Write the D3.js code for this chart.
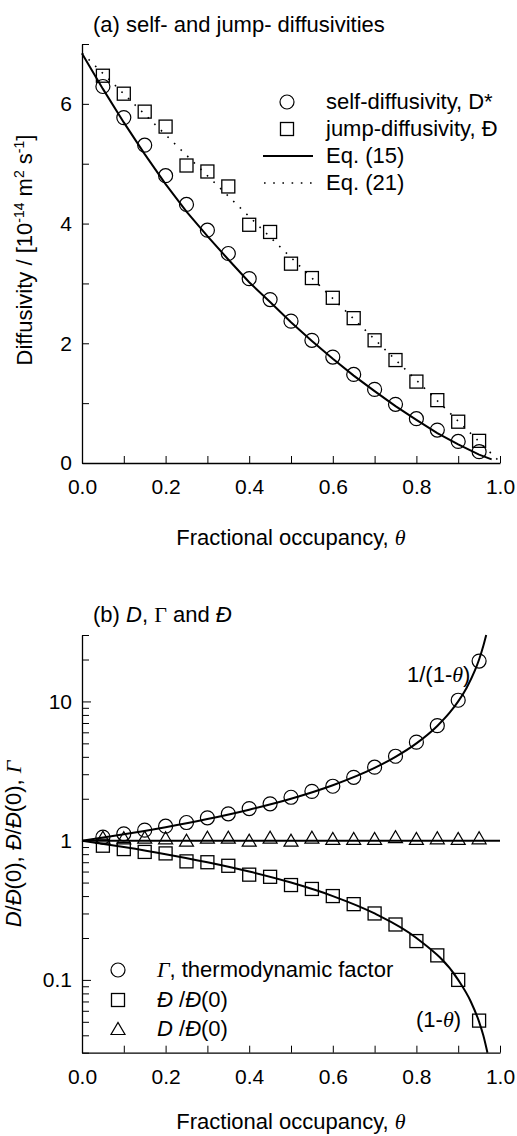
<!DOCTYPE html>
<html><head><meta charset="utf-8">
<script src="https://cdn.jsdelivr.net/npm/d3@7"></script>
<style>
html,body{margin:0;padding:0;background:#fff;overflow:hidden;}
svg{display:block;}
text{font-family:"Liberation Sans",Arial,sans-serif;fill:#000;white-space:pre;}
</style></head><body>
<svg id="chart" width="517" height="1136"></svg>
<script>
// ---------- data ----------
const theta = [0.05,0.10,0.15,0.20,0.25,0.30,0.35,0.40,0.45,0.50,0.55,0.60,0.65,0.70,0.75,0.80,0.85,0.90,0.95];
// panel (a)
const selfDiff = [6.29,5.77,5.31,4.80,4.32,3.89,3.50,3.08,2.73,2.37,2.05,1.77,1.48,1.23,0.98,0.74,0.55,0.36,0.19];
const jumpDiff = [6.47,6.17,5.87,5.62,4.97,4.87,4.62,3.98,3.86,3.33,3.09,2.76,2.42,2.05,1.72,1.36,1.05,0.69,0.37];
const eq15Theta = [0,0.05,0.10,0.15,0.20,0.25,0.30,0.35,0.40,0.45,0.50,0.55,0.60,0.65,0.70,0.75,0.80,0.85,0.90,0.95,0.98];
const eq15Vals  = [6.84,6.25,5.69,5.16,4.66,4.20,3.79,3.40,3.02,2.69,2.35,2.04,1.74,1.46,1.20,0.95,0.72,0.50,0.31,0.14,0.06];
const eq21Theta = [0,0.995];
const eq21Vals  = [6.85,0.05];
const yTicksA = [0,1,2,3,4,5,6,7];
const xTicks = [0,0.1,0.2,0.3,0.4,0.5,0.6,0.7,0.8,0.9,1.0];
// panel (b)
const gammaPts = [1.06,1.12,1.19,1.27,1.35,1.46,1.56,1.70,1.84,2.05,2.26,2.46,2.85,3.37,4.04,5.10,6.70,10.2,19.5];
const jumpRatio = [0.92,0.87,0.83,0.81,0.71,0.70,0.66,0.57,0.55,0.48,0.45,0.40,0.35,0.30,0.25,0.19,0.15,0.10,0.051];
const diffRatio = [1.05,1.04,1.05,1.04,1.00,1.05,1.05,1.00,1.05,1.00,1.05,1.03,1.03,1.03,1.06,1.03,1.04,1.03,1.04];
const gammaCurveTheta = [0,0.1,0.2,0.3,0.4,0.5,0.6,0.7,0.75,0.8,0.85,0.88,0.9,0.92,0.94,0.95,0.96,0.967];
const gammaCurveVals  = [1,1.11,1.25,1.43,1.67,2.0,2.5,3.33,4.0,5.0,6.67,8.33,10,12.5,16.7,20,25,30];
const linCurveTheta = [0,0.1,0.2,0.3,0.4,0.5,0.6,0.7,0.8,0.9,0.93,0.95,0.96,0.97];
const linCurveVals  = [1,0.9,0.8,0.7,0.6,0.5,0.4,0.3,0.2,0.1,0.07,0.05,0.04,0.03];
const unityTheta = [0,1];
const unityVals = [1,1];
const yTicksB = [0.03,0.04,0.05,0.06,0.07,0.08,0.09,0.1,0.2,0.3,0.4,0.5,0.6,0.7,0.8,0.9,1,2,3,4,5,6,7,8,9,10,20,30];
const yLabelsB = [0.1,1,10];

// ---------- setup ----------
const svg = d3.select("#chart");
const x = d3.scaleLinear().domain([0,1]).range([82,500]);
const yA = d3.scaleLinear().domain([0,7]).range([463,44]);
const yB = d3.scaleLog().domain([0.03,30]).range([1052.7,635]);
const FS = 22, TFS = 21;

function zip(a,b){return a.map((v,i)=>[v,b[i]]);}

function styleAxis(g){
  g.attr("font-family",null).attr("font-size",null);
  g.select(".domain").attr("stroke","#000").attr("stroke-width",1.3);
  g.selectAll(".tick line").attr("stroke","#000").attr("stroke-width",1);
  g.selectAll(".tick text").style("font-size",TFS+"px").attr("fill","#000");
}

function xAxis(yPos){
  const g = svg.append("g").attr("transform",`translate(0,${yPos})`)
    .call(d3.axisBottom(x).tickValues(xTicks).tickSizeInner(-7).tickSizeOuter(0).tickPadding(16)
      .tickFormat(d => (Math.round(d*10)%2===0) ? d3.format(".1f")(d) : ""));
  styleAxis(g);
}

// ---------- panel (a) ----------
xAxis(463);
{
  const g = svg.append("g").attr("transform","translate(82,0)")
    .call(d3.axisLeft(yA).tickValues(yTicksA).tickSizeInner(-7).tickSizeOuter(0).tickPadding(10)
      .tickFormat(d => d%2===0 ? d : ""));
  styleAxis(g);
}
const lineA = d3.line().x(d=>x(d[0])).y(d=>yA(d[1]));
svg.append("path").attr("d",lineA(zip(eq15Theta,eq15Vals))).attr("fill","none").attr("stroke","#000").attr("stroke-width",2);
svg.append("path").attr("d",lineA(zip(eq21Theta,eq21Vals))).attr("fill","none").attr("stroke","#000").attr("stroke-width",1.6).attr("stroke-dasharray","1.6,7.6");

function circle(g,cx,cy){g.append("circle").attr("cx",cx).attr("cy",cy).attr("r",7).attr("fill","none").attr("stroke","#000").attr("stroke-width",1.2);}
function square(g,cx,cy,s){s=s||13;g.append("rect").attr("x",cx-s/2).attr("y",cy-s/2).attr("width",s).attr("height",s).attr("fill","none").attr("stroke","#000").attr("stroke-width",1.3);}
function triangle(g,cx,cy){g.append("path").attr("d",`M${cx-7},${cy+5.5}L${cx+7},${cy+5.5}L${cx},${cy-6.5}Z`).attr("fill","none").attr("stroke","#000").attr("stroke-width",1.2);}

const mA = svg.append("g");
theta.forEach((t,i)=>circle(mA,x(t),yA(selfDiff[i])));
theta.forEach((t,i)=>square(mA,x(t),yA(jumpDiff[i]),13));

svg.append("text").attr("x",93).attr("y",32).style("font-size",FS+"px").text("(a) self- and jump- diffusivities");

// y label (a)
{
  const t = svg.append("text").attr("transform","translate(32,250) rotate(-90)").attr("text-anchor","middle").style("font-size",FS+"px");
  t.append("tspan").text("Diffusivity / [10");
  t.append("tspan").attr("dy",-8).style("font-size","14px").text("-14");
  t.append("tspan").attr("dy",8).text(" m");
  t.append("tspan").attr("dy",-8).style("font-size","14px").text("2");
  t.append("tspan").attr("dy",8).text(" s");
  t.append("tspan").attr("dy",-8).style("font-size","14px").text("-1");
  t.append("tspan").attr("dy",8).text("]");
}
function xLabel(yb){
  const t = svg.append("text").attr("x",291).attr("y",yb).attr("text-anchor","middle").style("font-size",FS+"px");
  t.append("tspan").text("Fractional occupancy, ");
  t.append("tspan").style("font-family","'Liberation Serif',serif").style("font-style","italic").text("θ");
}
xLabel(545);

// legend (a)
{
  const lg = svg.append("g");
  const rows = [102,129,156,183];
  circle(lg,287,rows[0]);
  square(lg,287,rows[1],13);
  lg.append("line").attr("x1",263).attr("x2",313).attr("y1",rows[2]).attr("y2",rows[2]).attr("stroke","#000").attr("stroke-width",2);
  lg.append("line").attr("x1",264).attr("x2",314).attr("y1",rows[3]).attr("y2",rows[3]).attr("stroke","#000").attr("stroke-width",1.6).attr("stroke-dasharray","1.6,7.6");
  const labels = ["self-diffusivity, D*","jump-diffusivity, Đ","Eq. (15)","Eq. (21)"];
  labels.forEach((s,i)=>lg.append("text").attr("x",326).attr("y",rows[i]+7).style("font-size",FS+"px").text(s));
}

// ---------- panel (b) ----------
xAxis(1052.7);
{
  const g = svg.append("g").attr("transform","translate(82,0)")
    .call(d3.axisLeft(yB).tickValues(yTicksB).tickSizeInner(-7).tickSizeOuter(0).tickPadding(10)
      .tickFormat(d => yLabelsB.includes(d) ? String(d) : ""));
  styleAxis(g);
  g.selectAll(".tick line").attr("x2", d => yLabelsB.includes(d) ? 9 : 7);
}
const lineB = d3.line().x(d=>x(d[0])).y(d=>yB(d[1])).curve(d3.curveMonotoneX);
[[gammaCurveTheta,gammaCurveVals],[linCurveTheta,linCurveVals],[unityTheta,unityVals]].forEach(([a,b])=>{
  svg.append("path").attr("d",lineB(zip(a,b))).attr("fill","none").attr("stroke","#000").attr("stroke-width",2);
});
const mB = svg.append("g");
theta.forEach((t,i)=>circle(mB,x(t),yB(gammaPts[i])));
theta.forEach((t,i)=>square(mB,x(t),yB(jumpRatio[i]),13));
theta.forEach((t,i)=>triangle(mB,x(t),yB(diffRatio[i])));

// title (b)
{
  const t = svg.append("text").attr("x",93).attr("y",622).style("font-size",FS+"px");
  t.append("tspan").text("(b) ");
  t.append("tspan").style("font-style","italic").text("D");
  t.append("tspan").text(", ");
  t.append("tspan").style("font-family","'Liberation Serif',serif").text("Γ");
  t.append("tspan").text(" and ");
  t.append("tspan").style("font-style","italic").text("Đ");
}
// y label (b)
{
  const t = svg.append("text").attr("transform","translate(21,844) rotate(-90)").attr("text-anchor","middle").style("font-size",FS+"px");
  const it = s => t.append("tspan").style("font-style","italic").text(s);
  const n = s => t.append("tspan").text(s);
  it("D"); n("/"); it("Đ"); n("(0), "); it("Đ"); n("/"); it("Đ"); n("(0), ");
  t.append("tspan").style("font-family","'Liberation Serif',serif").style("font-style","italic").text("Γ");
}
// annotations
{
  const a1 = svg.append("text").attr("x",407).attr("y",682).style("font-size",FS+"px");
  a1.append("tspan").text("1/(1-");
  a1.append("tspan").style("font-family","'Liberation Serif',serif").style("font-style","italic").text("θ");
  a1.append("tspan").text(")");
  const a2 = svg.append("text").attr("x",416).attr("y",1027).style("font-size",FS+"px");
  a2.append("tspan").text("(1-");
  a2.append("tspan").style("font-family","'Liberation Serif',serif").style("font-style","italic").text("θ");
  a2.append("tspan").text(")");
}
// legend (b)
{
  const lg = svg.append("g");
  const rows = [970,1000,1029];
  circle(lg,118,rows[0]);
  square(lg,118,rows[1],13);
  triangle(lg,118,rows[2]);
  const t0 = lg.append("text").attr("x",157).attr("y",rows[0]+7).style("font-size",FS+"px");
  t0.append("tspan").style("font-family","'Liberation Serif',serif").style("font-style","italic").text("Γ");
  t0.append("tspan").text(", thermodynamic factor");
  const t1 = lg.append("text").attr("x",157).attr("y",rows[1]+7).style("font-size",FS+"px");
  t1.append("tspan").style("font-style","italic").text("Đ");
  t1.append("tspan").text(" /");
  t1.append("tspan").style("font-style","italic").text("Đ");
  t1.append("tspan").text("(0)");
  const t2 = lg.append("text").attr("x",157).attr("y",rows[2]+7).style("font-size",FS+"px");
  t2.append("tspan").style("font-style","italic").text("D");
  t2.append("tspan").text(" /");
  t2.append("tspan").style("font-style","italic").text("Đ");
  t2.append("tspan").text("(0)");
}
xLabel(1129);
</script>
</body></html>
